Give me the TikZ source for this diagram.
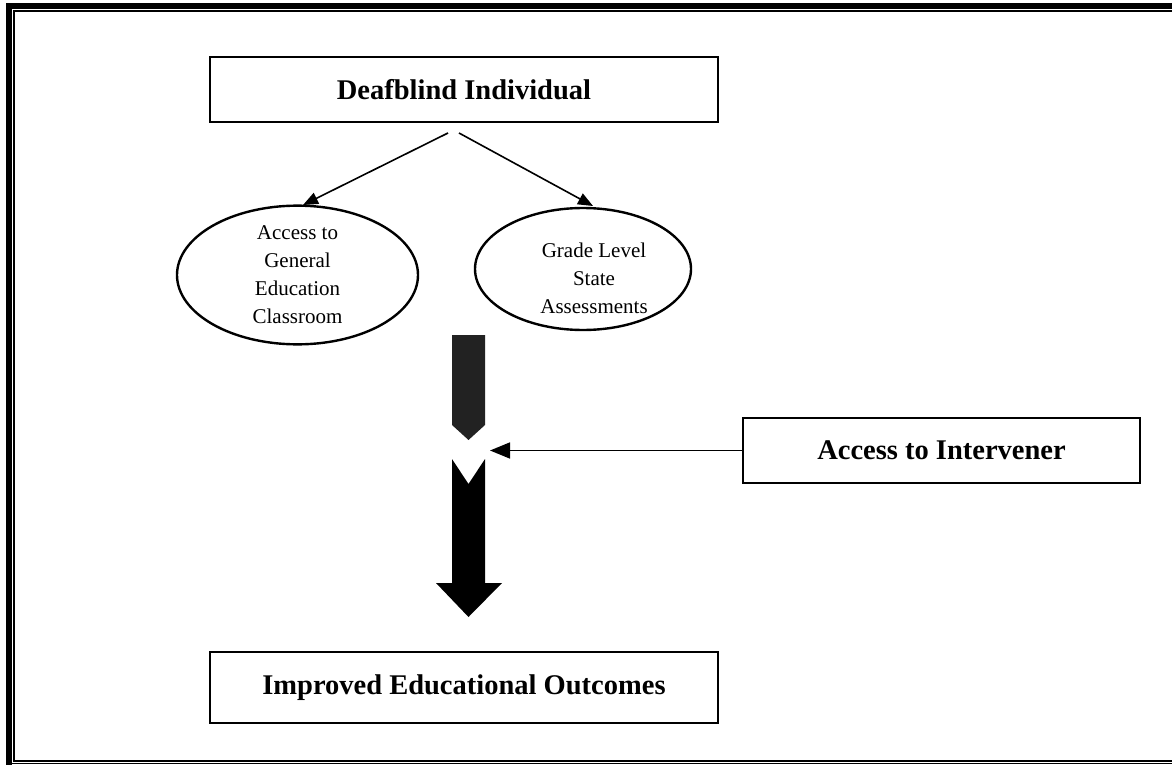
\documentclass[tikz,border=0pt]{standalone}
\usepackage{fontspec}
\setmainfont{Liberation Serif}
\usetikzlibrary{shapes.geometric,arrows.meta}
\definecolor{shaftgray}{RGB}{34,34,34}
\begin{document}
\begin{tikzpicture}[x=0.5pt,y=-0.5pt,
  box/.style={draw, line width=1.3pt, inner sep=0pt,
    font=\bfseries\fontsize{14.25}{17}\selectfont},
  oval/.style={draw, ellipse, line width=1.2pt, inner sep=0pt, align=center,
    font=\fontsize{10.5}{14}\selectfont},
  thinarrow/.style={line width=0.8pt, -{Triangle[length=7.5pt,width=6pt]}},
  sidearrow/.style={line width=0.8pt, -{Triangle[length=10pt,width=8pt]}}]
\useasboundingbox (0,0) rectangle (1172,765);

% page border: thick outer band, thin inner rule
\fill (6,3) rectangle (12,765);
\fill (6,3) rectangle (1172,9);
\draw[line width=0.75pt] (1172,11) -- (14,11) -- (14,761) -- (1172,761);
\draw[line width=0.75pt] (12,763.5) -- (1172,763.5);

% boxes
\node[box, minimum width=254pt, minimum height=32.5pt] (top) at (464,89.5) {Deafblind Individual};
\node[box, minimum width=254pt, minimum height=35.5pt] (out) at (464,687.5) {Improved Educational Outcomes};
\node[box, minimum width=198.5pt, minimum height=32.5pt] (inter) at (941.5,450.5) {Access to Intervener};

% ovals
\node[oval, minimum width=120.5pt, minimum height=62pt] (gen) at (297.5,275)
  {Access to\\General\\Education\\Classroom};
\node[oval, minimum width=108pt, minimum height=61pt] (grade) at (583,269) {};
\node[font=\fontsize{10.5}{14}\selectfont, align=center] (gradetxt) at (594,278)
  {Grade Level\\State\\Assessments};

% branch arrows under the top box
\coordinate (la) at (448,133);
\coordinate (ra) at (459,133);
\coordinate (lt) at (303,205);
\coordinate (rt) at (593,206);
\draw[thinarrow] (la) -- (lt);
\draw[thinarrow] (ra) -- (rt);

% block arrows
\fill[shaftgray] (452,335) -- (485,335) -- (485,425) -- (468.5,440) -- (452,425) -- cycle;
\fill (452,459) -- (468.5,484) -- (485,459) -- (485,583) -- (502,583)
  -- (468.5,617) -- (436,583) -- (452,583) -- cycle;

% intervener arrow
\coordinate (gap) at (490,450.5);
\draw[sidearrow] (inter.west) -- (gap);
\end{tikzpicture}
\end{document}
